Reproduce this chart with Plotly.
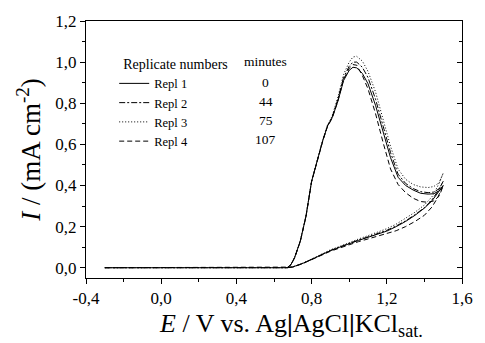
import plotly.graph_objects as go

# ---- data ----
names = ["Repl 1", "Repl 2", "Repl 3", "Repl 4"]
minutes = [0, 44, 75, 107]
dashes = ["solid", "6px,2px,2px,2px", "1px,2px", "5px,3px"]

# baseline (no current before onset)
E_base = [-0.30, 0.00, 0.30, 0.60, 0.67]
I_base = [0.0, 0.0, 0.0, 0.0, 0.0]

# lower branch, E increasing
E_low = [0.67, 0.70, 0.75, 0.80, 0.85, 0.90, 0.95, 1.00, 1.05, 1.10, 1.15, 1.20, 1.25, 1.30, 1.35, 1.40, 1.44, 1.47, 1.50]
I_low_1 = [0.0, 0.004, 0.020, 0.040, 0.063, 0.083, 0.100, 0.118, 0.133, 0.148, 0.163, 0.178, 0.200, 0.225, 0.255, 0.290, 0.325, 0.360, 0.400]
I_low_2 = [0.0, 0.004, 0.020, 0.041, 0.064, 0.084, 0.101, 0.120, 0.135, 0.150, 0.166, 0.182, 0.203, 0.228, 0.258, 0.292, 0.330, 0.370, 0.420]
I_low_3 = [0.0, 0.004, 0.021, 0.042, 0.066, 0.087, 0.104, 0.123, 0.140, 0.156, 0.173, 0.190, 0.212, 0.240, 0.270, 0.305, 0.345, 0.395, 0.460]
I_low_4 = [0.0, 0.003, 0.019, 0.039, 0.061, 0.080, 0.096, 0.113, 0.127, 0.140, 0.153, 0.165, 0.180, 0.200, 0.225, 0.255, 0.295, 0.340, 0.400]

# upper branch, E decreasing
E_up = [1.50, 1.48, 1.45, 1.42, 1.38, 1.34, 1.30, 1.26, 1.22, 1.18, 1.14, 1.10, 1.07, 1.04, 1.02, 1.00, 0.97, 0.94, 0.91, 0.895, 0.885, 0.86, 0.83, 0.80, 0.77, 0.74, 0.71, 0.69, 0.67]
I_up_1 = [0.400, 0.375, 0.360, 0.358, 0.362, 0.378, 0.400, 0.440, 0.535, 0.660, 0.790, 0.895, 0.945, 0.972, 0.975, 0.960, 0.910, 0.810, 0.730, 0.705, 0.690, 0.620, 0.520, 0.420, 0.250, 0.130, 0.050, 0.015, 0.0]
I_up_2 = [0.420, 0.385, 0.368, 0.365, 0.370, 0.385, 0.410, 0.455, 0.560, 0.690, 0.820, 0.925, 0.975, 1.000, 1.000, 0.980, 0.925, 0.820, 0.735, 0.708, 0.692, 0.622, 0.522, 0.420, 0.250, 0.130, 0.050, 0.015, 0.0]
I_up_3 = [0.460, 0.415, 0.395, 0.390, 0.393, 0.405, 0.430, 0.480, 0.590, 0.725, 0.855, 0.955, 1.005, 1.028, 1.025, 1.000, 0.940, 0.830, 0.740, 0.710, 0.695, 0.624, 0.524, 0.422, 0.252, 0.132, 0.052, 0.016, 0.0]
I_up_4 = [0.400, 0.350, 0.325, 0.318, 0.322, 0.338, 0.365, 0.405, 0.480, 0.610, 0.750, 0.870, 0.935, 0.985, 0.988, 0.970, 0.915, 0.812, 0.730, 0.704, 0.688, 0.618, 0.518, 0.418, 0.248, 0.128, 0.048, 0.014, 0.0]

I_low = [I_low_1, I_low_2, I_low_3, I_low_4]
I_up = [I_up_1, I_up_2, I_up_3, I_up_4]

x_ticks = [-0.4, 0.0, 0.4, 0.8, 1.2, 1.6]
x_ticklabels = ["-0,4", "0,0", "0,4", "0,8", "1,2", "1,6"]
y_ticks = [0.0, 0.2, 0.4, 0.6, 0.8, 1.0, 1.2]
y_ticklabels = ["0,0", "0,2", "0,4", "0,6", "0,8", "1,0", "1,2"]

FONT = "Liberation Serif"

fig = go.Figure()
for k in range(4):
    fig.add_trace(go.Scatter(
        x=E_base + E_low[1:] + E_up[1:],
        y=I_base + I_low[k][1:] + I_up[k][1:],
        mode="lines", name=names[k],
        line=dict(color="black", width=1, dash=dashes[k]),
    ))

# header + minutes column
leg_y = [0.762, 0.688, 0.614, 0.537]
fig.add_annotation(x=0.478, y=0.844, xref="paper", yref="paper", text="minutes",
                   xanchor="center", yanchor="middle",
                   showarrow=False, font=dict(family=FONT, size=13.5, color="black"))
for k in range(4):
    fig.add_annotation(x=0.478, y=leg_y[k], xref="paper", yref="paper", text=str(minutes[k]),
                       xanchor="center", yanchor="middle",
                       showarrow=False, font=dict(family=FONT, size=13.5, color="black"))

# x-axis title
fig.add_annotation(x=0.545, y=-0.112, xref="paper", yref="paper",
                   text="<i>E</i> / V vs. Ag<b>|</b>AgCl<b>|</b>KCl<sub>sat.</sub>",
                   xanchor="center", yanchor="top", showarrow=False,
                   font=dict(family=FONT, size=26, color="black"))

axis_common = dict(showline=True, linecolor="black", linewidth=1, ticks="outside",
                   ticklen=5, tickwidth=1, tickcolor="black", showgrid=False, zeroline=False,
                   tickfont=dict(family=FONT, size=17, color="black"))

fig.update_layout(
    width=485, height=343,
    margin=dict(l=86, r=12, t=21, b=65),
    plot_bgcolor="white", paper_bgcolor="white",
    showlegend=True,
    legend=dict(x=0.075, y=0.885, xanchor="left", yanchor="top",
                bgcolor="rgba(0,0,0,0)",
                font=dict(family=FONT, size=12.5, color="black"),
                title=dict(text="  Replicate numbers", side="top",
                           font=dict(family=FONT, size=14, color="black")),
                tracegroupgap=0),
    xaxis=dict(range=[-0.4, 1.6], tickvals=x_ticks, ticktext=x_ticklabels, mirror=True,
               minor=dict(dtick=0.2, tick0=-0.4, ticks="outside", ticklen=3, tickcolor="black"),
               **axis_common),
    yaxis=dict(range=[-0.05, 1.2], tickvals=y_ticks, ticktext=y_ticklabels, mirror=True,
               minor=dict(dtick=0.1, tick0=0.0, ticks="outside", ticklen=3, tickcolor="black"),
               title=dict(text="<i>I</i> / (mA cm<sup>-2</sup>)",
                          font=dict(family=FONT, size=27, color="black"), standoff=6),
               **axis_common),
    yaxis2=dict(range=[-0.05, 1.2], overlaying="y", side="right", tickvals=y_ticks,
                showticklabels=False, ticks="inside", ticklen=5, tickcolor="black",
                minor=dict(dtick=0.1, tick0=0.0, ticks="inside", ticklen=3, tickcolor="black"),
                showgrid=False, zeroline=False, showline=False),
)
# invisible trace so the right-hand axis ticks are drawn
fig.add_trace(go.Scatter(x=[None], y=[None], yaxis="y2", showlegend=False, hoverinfo="skip"))

fig.write_html("out.html")
